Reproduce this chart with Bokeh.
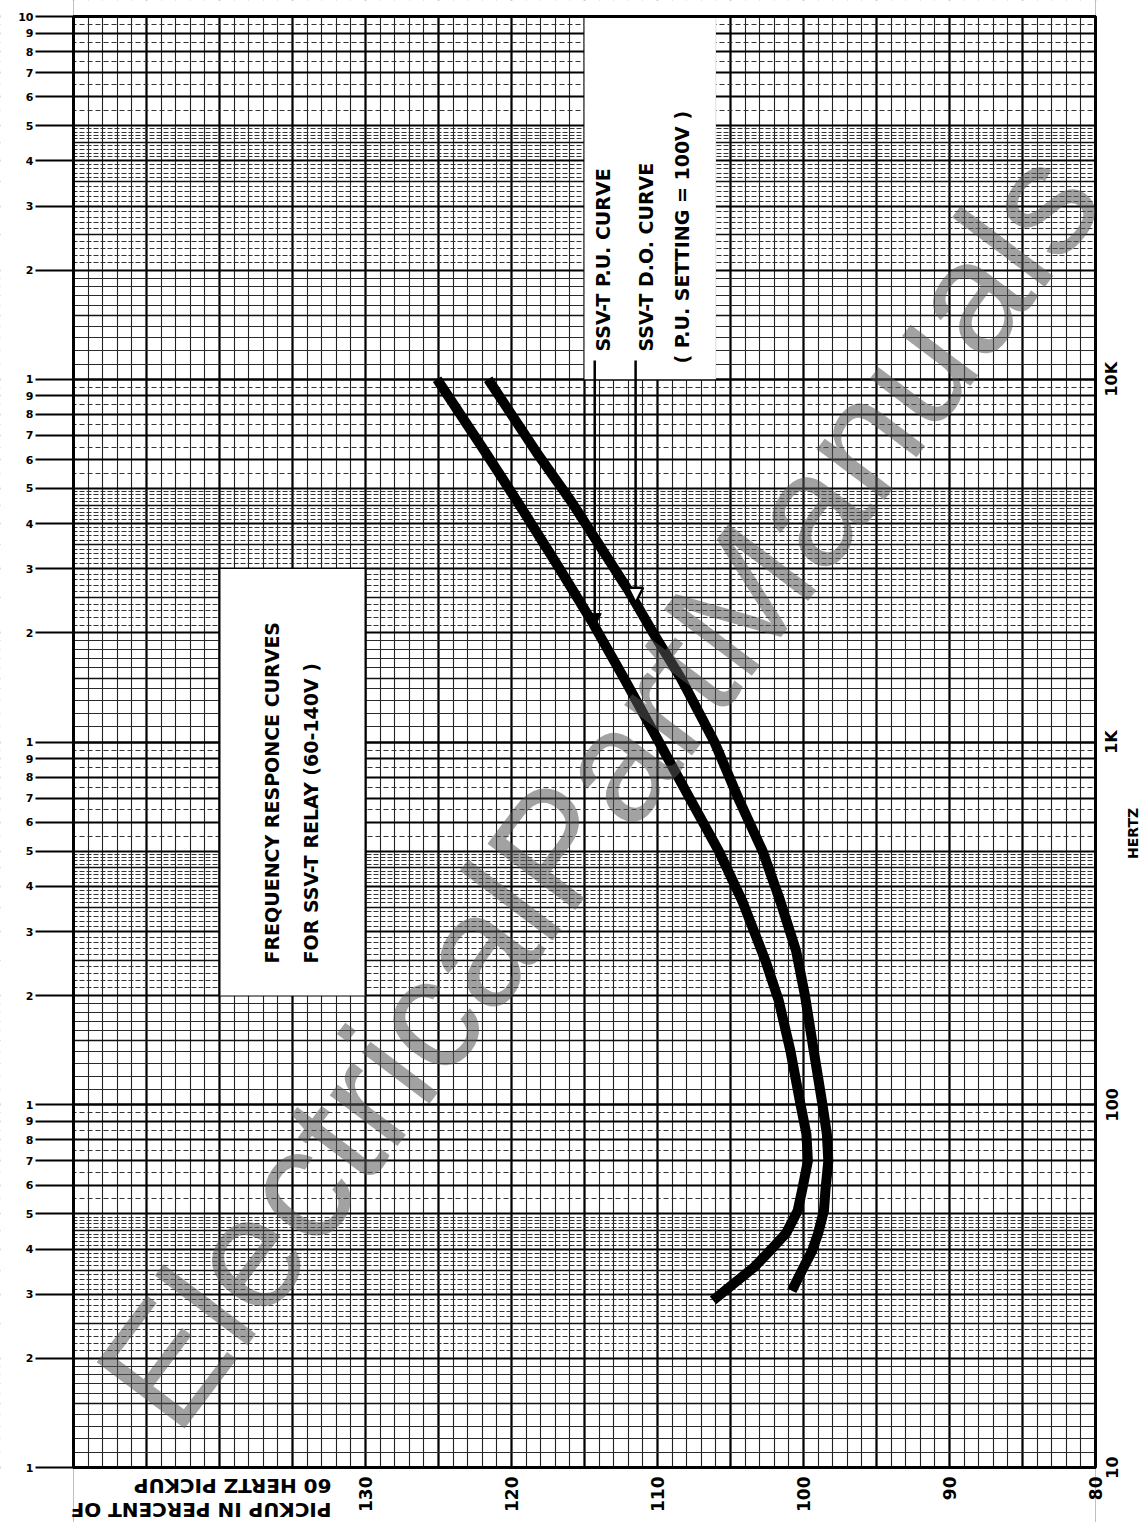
import math
from bokeh.plotting import figure
from bokeh.models import FixedTicker, Grid, Label, Arrow, NormalHead, Range1d
from bokeh.embed import file_html
from bokeh.resources import INLINE

# ---------------- data ----------------
# SSV-T pick-up curve: frequency (Hz) vs pickup in percent of 60 Hz pickup
pu_hz = [28.9, 32.1, 35.6, 39.6, 44.2, 51, 58, 70, 83, 100, 141, 194, 249, 365, 500, 700, 1000, 1500, 2150, 3000, 4600, 6300, 10000]
pu_pct = [106.2, 104.8, 103.4, 102.3, 101.2, 100.4, 100.1, 99.7, 99.8, 100.2, 100.9, 101.7, 102.6, 104.2, 105.8, 107.8, 109.9, 112.3, 114.5, 116.7, 119.6, 121.8, 125.1]
# SSV-T drop-out curve
do_hz = [30.7, 35.6, 39.6, 44.2, 51, 58, 70, 83, 100, 141, 200, 265, 365, 500, 690, 1000, 1500, 2000, 2620, 4600, 6300, 10000]
do_pct = [100.8, 100.0, 99.4, 99.0, 98.6, 98.5, 98.3, 98.4, 98.7, 99.3, 99.9, 100.5, 101.6, 102.8, 104.4, 106.1, 108.4, 110.3, 112.0, 115.9, 118.3, 121.6]

# axis definitions
pct_ticks = [80, 90, 100, 110, 120, 130]
hertz_ticks = [10, 100, 1000, 10000]
hertz_tick_labels = ["10", "100", "1K", "10K"]
cycle_digits = ["1", "2", "3", "4", "5", "6", "7", "8", "9"]
top_label = "10"
hertz_title_at = 560

# annotation anchors (data units)
title_box = dict(left=140, right=130, bottom=200, top=3000)
legend_box = dict(left=115, right=106, bottom=10000, top=100000)
pu_arrow_pct, pu_arrow_tip_hz = 114.3, 2080
do_arrow_pct, do_arrow_tip_hz = 111.5, 2420

# ---------------- layout (page pixels; the Bokeh page has no body margin) ----------------
W, H = 1148, 1522
FX0, FX1 = 73, 1095              # paper left/right edge (150 % / 80 %)
PAPER_TOP, PAPER_BOT = 16, 1467  # paper top/bottom edge (100 kHz / 10 Hz)
P_LEFT, P_RIGHT = 150, 80
F_LO, F_HI = 10, 100000
DEC_PX = (PAPER_BOT - PAPER_TOP) / (math.log10(F_HI) - math.log10(F_LO))


def pct_at(x):
    return P_LEFT + (x - FX0) * (P_RIGHT - P_LEFT) / (FX1 - FX0)


def hz_at(y):
    return 10 ** (math.log10(F_LO) + (PAPER_BOT - y) / DEC_PX)


X_EXT_L, X_EXT_R = pct_at(0), pct_at(W)
Y_EXT_LO, Y_EXT_HI = hz_at(H), hz_at(0)
# margin covers reach a little past the page so no grid line peeks at the edges
CX_L, CX_R, CY_LO, CY_HI = pct_at(-40), pct_at(W + 40), hz_at(H + 40), hz_at(-40)

p = figure(width=W, height=H, x_range=Range1d(X_EXT_L, X_EXT_R), y_range=Range1d(Y_EXT_LO, Y_EXT_HI),
           y_axis_type="log", output_backend="svg", toolbar_location=None,
           min_border_left=0, min_border_right=0, min_border_top=0, min_border_bottom=0)
p.background_fill_color = "white"
p.border_fill_color = "white"
p.outline_line_color = None
p.xgrid.visible = False
p.ygrid.visible = False

# ---------------- graph-paper grid ----------------
def add_grid(dim, ticks, width, color="#151515", dash="solid"):
    g = Grid(dimension=dim, ticker=FixedTicker(ticks=ticks, minor_ticks=[]),
             grid_line_color=color, grid_line_width=width, grid_line_dash=dash)
    p.add_layout(g)

decades = [10, 100, 1000, 10000]
thin_a, thin_b, half, ints, decs, upper = [], [], [], [], [], []
for d in decades:
    for k in range(11, 50):
        if k % 10 == 0:
            continue
        if k % 5 == 0:
            half.append(k / 10 * d)
        elif k < 20:
            thin_a.append(k / 10 * d)
        else:
            thin_b.append(k / 10 * d)
    for k in range(55, 100, 10):
        upper.append(k / 10 * d)
    for m in range(2, 10):
        ints.append(m * d)
    decs.append(d)
decs.append(100000)

add_grid(0, list(range(80, 151)), 1.1, "#222222")
add_grid(0, list(range(80, 151, 5)), 2.2, "black")
add_grid(1, thin_a, 1.0, "#2a2a2a")
add_grid(1, thin_b, 1.0, "#333333", "5 2")
add_grid(1, upper, 1.0, "#333333", "5 3")
add_grid(1, half, 1.6, "#111111")
add_grid(1, ints, 2.0, "black")
add_grid(1, decs, 2.6, "black")

# white page margins around the paper (the plot frame covers the whole page)
p.quad(left=[CX_L, P_RIGHT, P_LEFT, P_LEFT], right=[P_LEFT, CX_R, P_RIGHT, P_RIGHT],
       bottom=[CY_LO, CY_LO, CY_LO, F_HI], top=[CY_HI, CY_HI, F_LO, CY_HI],
       fill_color="white", line_color=None)

# white label boxes
p.quad(left=[title_box["left"], legend_box["left"]], right=[title_box["right"], legend_box["right"]],
       bottom=[title_box["bottom"], legend_box["bottom"]], top=[title_box["top"], legend_box["top"]],
       fill_color="white", line_color=None)
p.segment(x0=[title_box["left"], title_box["right"]], x1=[title_box["left"], title_box["right"]],
          y0=[title_box["bottom"]] * 2, y1=[title_box["top"]] * 2, line_color="black", line_width=2)

# paper border
p.quad(left=[P_LEFT], right=[P_RIGHT], bottom=[F_LO], top=[F_HI], fill_color=None,
       line_color="black", line_width=3)

# curves
p.line(pu_pct, pu_hz, line_color="black", line_width=10, line_cap="butt", line_join="round")
p.line(do_pct, do_hz, line_color="black", line_width=10, line_cap="butt", line_join="round")

# ---------------- axes ----------------
def both_keys(d, t, lab):
    d[t] = lab
    d[str(t)] = lab

left_ticks, left_over = [], {}
for d in decades:
    for i, lab in enumerate(cycle_digits):
        t = (i + 1) * d
        left_ticks.append(t)
        both_keys(left_over, t, lab)
left_ticks.append(100000)
both_keys(left_over, 100000, top_label)

FONT = "DejaVu Sans"

ya = p.yaxis[0]
ya.ticker = FixedTicker(ticks=left_ticks, minor_ticks=[])
ya.fixed_location = P_LEFT
ya.major_label_overrides = left_over
ya.axis_line_color = None
ya.major_tick_in = 0
ya.major_tick_out = 38
ya.major_tick_line_width = 2
ya.major_tick_line_color = "black"
ya.minor_tick_line_color = None
ya.major_label_standoff = 2
ya.major_label_text_font = FONT
ya.major_label_text_font_style = "bold"
ya.major_label_text_font_size = "11px"
ya.major_label_text_color = "black"

xa = p.xaxis[0]
xa.ticker = FixedTicker(ticks=pct_ticks, minor_ticks=[])
xa.fixed_location = F_LO
xa.axis_line_color = None
xa.major_tick_in = 0
xa.major_tick_out = 0
xa.minor_tick_line_color = None
xa.major_label_orientation = math.pi / 2
xa.major_label_standoff = 9
xa.major_label_text_font = FONT
xa.major_label_text_font_style = "bold"
xa.major_label_text_font_size = "17px"
xa.major_label_text_color = "black"

# ---------------- texts ----------------
def label(xp, yval, text, size, angle=0.0, align="left"):
    p.add_layout(Label(x=pct_at(xp), y=yval, text=text, angle=angle, text_align=align,
                       text_baseline="middle", text_font=FONT, text_font_style="bold",
                       text_font_size=size, text_color="black"))

# frequency scale on the right edge of the paper
for t, lab in zip(hertz_ticks, hertz_tick_labels):
    label(1111, t, lab, "16px", math.pi / 2, "center")
label(1132, hertz_title_at, "HERTZ", "14px", math.pi / 2, "center")

label(271, hz_at(963), "FREQUENCY  RESPONCE  CURVES", "19px", math.pi / 2)
label(310, hz_at(963), "FOR  SSV-T  RELAY (60-140V )", "19px", math.pi / 2)
label(602, hz_at(351), "SSV-T   P.U.   CURVE", "19px", math.pi / 2)
label(645, hz_at(351), "SSV-T   D.O.   CURVE", "19px", math.pi / 2)
label(681, hz_at(363), "( P.U.   SETTING = 100V )", "19px", math.pi / 2)
label(331, hz_at(1485), "60     HERTZ     PICKUP", "20px", math.pi)
label(331, hz_at(1509), "PICKUP    IN    PERCENT    OF", "20px", math.pi)

# leader arrows
lead_top = hz_at(360)
p.add_layout(Arrow(x_start=pu_arrow_pct, y_start=lead_top, x_end=pu_arrow_pct, y_end=pu_arrow_tip_hz,
                   line_width=2.5, line_color="black",
                   end=NormalHead(size=13, fill_color="black", line_color="black")))
p.add_layout(Arrow(x_start=do_arrow_pct, y_start=lead_top, x_end=do_arrow_pct, y_end=do_arrow_tip_hz,
                   line_width=2.5, line_color="black",
                   end=NormalHead(size=15, fill_color="white", line_color="black", line_width=2.5)))

# watermark
p.add_layout(Label(x=pct_at(132), y=hz_at(1405), text="ElectricalPartManuals", angle=math.radians(53),
                   text_font="Liberation Sans", text_font_size="160px", text_color="#555555",
                   text_alpha=0.55, text_baseline="alphabetic", text_align="left"))

open("out.html", "w").write(file_html(p, INLINE))
